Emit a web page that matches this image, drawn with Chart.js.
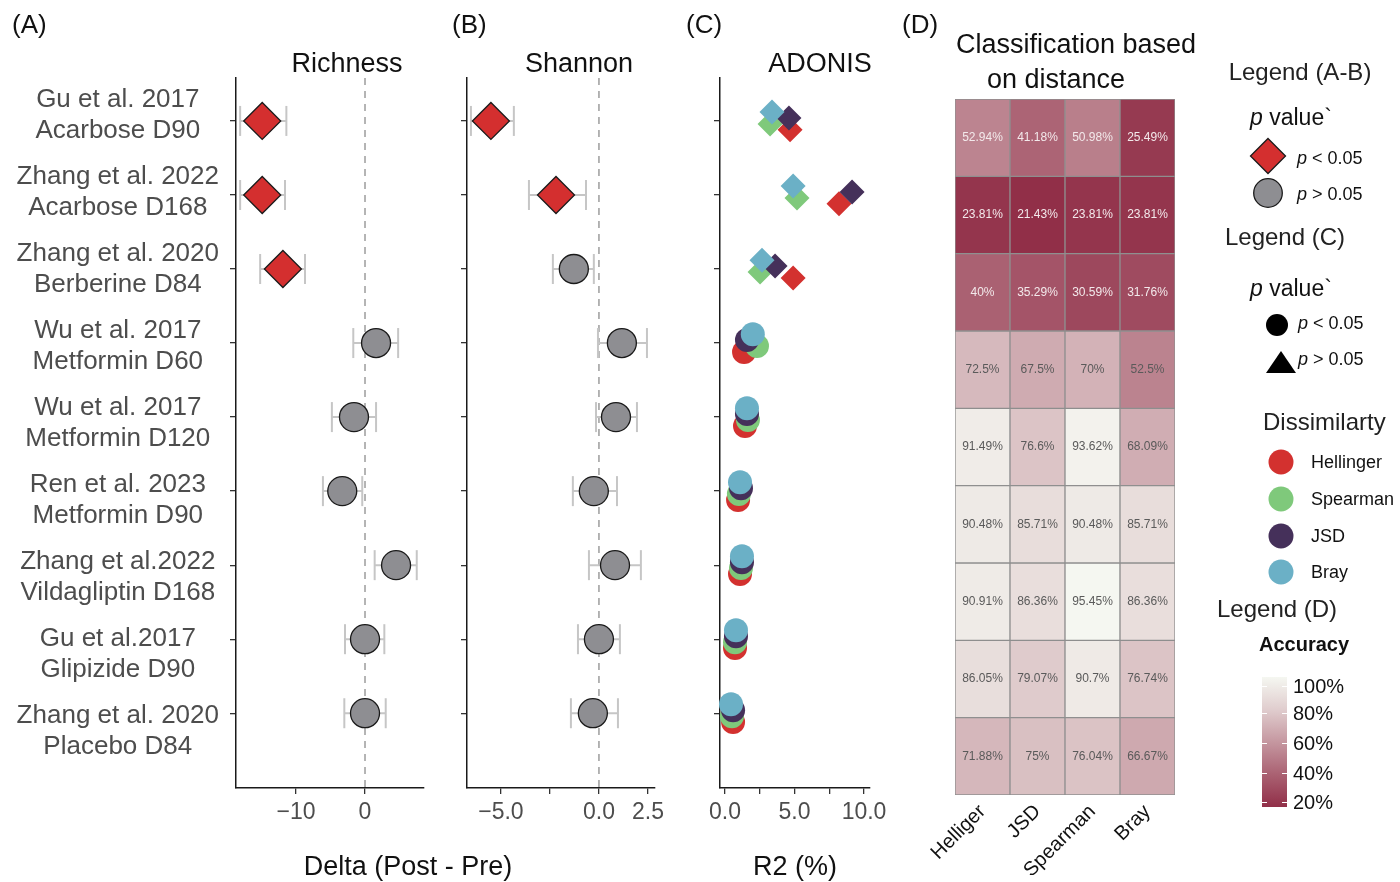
<!DOCTYPE html>
<html lang="en">
<head>
<meta charset="UTF-8" />
<title>Microbiome diversity and classification</title>
<script src="https://cdn.jsdelivr.net/npm/chart.js"></script>
<style>
  body { margin: 0; background: #fff; font-family: "Liberation Sans", Arial, sans-serif; }
  #wrap { position: relative; width: 1400px; height: 882px; overflow: hidden; }
  #wrap canvas { position: absolute; left: 0; top: 0; }
  .t { position: absolute; white-space: nowrap; line-height: 1; color: #111; }
  .c { transform: translate(-50%, -50%); }
  .l { transform: translateY(-50%); }
  .shape { position: absolute; overflow: visible; }
</style>
</head>
<body>
<div id="wrap">
  <canvas id="richness" width="1400" height="882"></canvas>
  <canvas id="shannon" width="1400" height="882"></canvas>
  <canvas id="adonis" width="1400" height="882"></canvas>
  <canvas id="heat" width="1400" height="882"></canvas>

  <!-- panel letters and titles -->
  <div class="t l" style="left:12px;top:24px;font-size:26px">(A)</div>
  <div class="t l" style="left:452px;top:24px;font-size:26px">(B)</div>
  <div class="t l" style="left:686px;top:24px;font-size:26px">(C)</div>
  <div class="t l" style="left:902px;top:24px;font-size:26px">(D)</div>
  <div class="t c" style="left:347px;top:63px;font-size:27px">Richness</div>
  <div class="t c" style="left:579px;top:63px;font-size:27px">Shannon</div>
  <div class="t c" style="left:820px;top:63px;font-size:27px">ADONIS</div>
  <div class="t c" style="left:1076px;top:44px;font-size:27px">Classification based</div>
  <div class="t c" style="left:1056px;top:79px;font-size:27px">on distance</div>
  <div class="t c" style="left:408px;top:866px;font-size:27px">Delta (Post - Pre)</div>
  <div class="t c" style="left:795px;top:866px;font-size:27px">R2 (%)</div>

  <!-- legend A-B -->
  <div class="t c" style="left:1300px;top:72px;font-size:24px;color:#222">Legend (A-B)</div>
  <div class="t l" style="left:1250px;top:117px;font-size:23px"><i>p</i> value`</div>
  <svg class="shape" style="left:1248px;top:136px" width="40" height="40">
    <polygon points="20,2.5 37.5,20 20,37.5 2.5,20" fill="#d42f2f" stroke="#1a1a1a" stroke-width="1.3"/>
  </svg>
  <div class="t l" style="left:1297px;top:158px;font-size:18px"><i>p</i> &lt; 0.05</div>
  <svg class="shape" style="left:1248px;top:173px" width="40" height="40">
    <circle cx="20" cy="20" r="14.3" fill="#8e8e92" stroke="#1a1a1a" stroke-width="1.3"/>
  </svg>
  <div class="t l" style="left:1297px;top:194px;font-size:18px"><i>p</i> &gt; 0.05</div>

  <!-- legend C -->
  <div class="t c" style="left:1285px;top:237px;font-size:24px;color:#222">Legend (C)</div>
  <div class="t l" style="left:1250px;top:288px;font-size:23px"><i>p</i> value`</div>
  <svg class="shape" style="left:1257px;top:305px" width="40" height="40">
    <circle cx="20" cy="20" r="11" fill="#000"/>
  </svg>
  <div class="t l" style="left:1298px;top:323px;font-size:18px"><i>p</i> &lt; 0.05</div>
  <svg class="shape" style="left:1261px;top:342px" width="40" height="40">
    <polygon points="20,9 35,31 5,31" fill="#000"/>
  </svg>
  <div class="t l" style="left:1298px;top:359px;font-size:18px"><i>p</i> &gt; 0.05</div>

  <!-- legend dissimilarity -->
  <div class="t l" style="left:1263px;top:422px;font-size:24px;color:#222">Dissimilarty</div>
  <div id="dissimLegend"></div>

  <!-- legend D -->
  <div class="t l" style="left:1217px;top:609px;font-size:24px;color:#222">Legend (D)</div>
  <div class="t l" style="left:1259px;top:644px;font-size:20px;font-weight:bold">Accuracy</div>
  <div id="colorbar" style="position:absolute;left:1262px;top:677px;width:25px;height:130px"></div>
  <div id="colorbarLabels"></div>
</div>

<script>
  // ---- data ----
  const studies = [
    ['Gu et al. 2017', 'Acarbose D90'],
    ['Zhang et al. 2022', 'Acarbose D168'],
    ['Zhang et al. 2020', 'Berberine D84'],
    ['Wu et al. 2017', 'Metformin D60'],
    ['Wu et al. 2017', 'Metformin D120'],
    ['Ren et al. 2023', 'Metformin D90'],
    ['Zhang et al.2022', 'Vildagliptin D168'],
    ['Gu et al.2017', 'Glipizide D90'],
    ['Zhang et al. 2020', 'Placebo D84']
  ];

  // (A) richness, delta post - pre
  const richMean = [-14.9, -14.9, -11.9, 1.6, -1.6, -3.3, 4.5, 0.0, 0.0];
  const richLow  = [-18.1, -18.1, -15.2, -1.7, -4.8, -6.1, 1.4, -2.9, -3.0];
  const richHigh = [-11.4, -11.6, -8.7, 4.8, 1.6, -0.4, 7.5, 2.8, 3.0];
  const richSig  = [true, true, true, false, false, false, false, false, false];

  // (B) shannon, delta post - pre
  const shanMean = [-5.51, -2.19, -1.28, 1.17, 0.87, -0.26, 0.82, 0.0, -0.31];
  const shanLow  = [-6.53, -3.57, -2.35, -0.05, -0.15, -1.33, -0.51, -1.07, -1.43];
  const shanHigh = [-4.34, -0.66, -0.26, 2.45, 1.94, 0.92, 2.14, 1.07, 0.97];
  const shanSig  = [true, true, false, false, false, false, false, false, false];

  // (C) ADONIS R2 (%)
  const dissimNames = ['Hellinger', 'Spearman', 'JSD', 'Bray'];
  const r2Hellinger = [4.68, 8.2, 4.9, 1.37, 1.44, 0.94, 1.08, 0.72, 0.58];
  const r2Spearman  = [3.24, 5.18, 2.52, 2.3, 1.65, 1.0, 1.15, 0.72, 0.5];
  const r2JSD       = [4.6, 9.14, 3.6, 1.58, 1.58, 1.15, 1.22, 0.79, 0.58];
  const r2Bray      = [3.38, 4.9, 2.66, 2.0, 1.58, 1.08, 1.22, 0.79, 0.43];
  const adonisDiamond = [true, true, true, false, false, false, false, false, false];

  // (D) classification accuracy (%), rows = studies
  const heatCols = ['Helliger', 'JSD', 'Spearman', 'Bray'];
  const accuracy = [
    [52.94, 41.18, 50.98, 25.49],
    [23.81, 21.43, 23.81, 23.81],
    [40, 35.29, 30.59, 31.76],
    [72.5, 67.5, 70, 52.5],
    [91.49, 76.6, 93.62, 68.09],
    [90.48, 85.71, 90.48, 85.71],
    [90.91, 86.36, 95.45, 86.36],
    [86.05, 79.07, 90.7, 76.74],
    [71.88, 75, 76.04, 66.67]
  ];

  const richTicks = [-10, 0];
  const richTickLabels = ['\u221210', '0'];
  const shanTicks = [-5, -2.5, 0, 2.5];
  const shanTickLabels = ['\u22125.0', '', '0.0', '2.5'];
  const r2Ticks = [0, 2.5, 5, 7.5, 10];
  const r2TickLabels = ['0.0', '', '5.0', '', '10.0'];
  const colorbarTicks = [100, 80, 60, 40, 20];

  // ---- styling / layout ----
  Chart.defaults.font.family = '"Liberation Sans", Arial, sans-serif';
  Chart.defaults.color = '#4d4d4d';

  const dissimColors = ['#d3312f', '#7fc97b', '#45305a', '#6bb0c6'];
  const rows = studies.map((s, i) => i + 1);
  const Y_MIN = 0.42, Y_MAX = 10.01;      // tick rows
  const LAB_MIN = 0.519, LAB_MAX = 9.740; // study labels sit slightly off the ticks
  const TOP = 78, BOTTOM = 788;

  function yTickAxis(width) {
    return {
      type: 'linear', position: 'left', weight: 0, reverse: true, bounds: 'data',
      min: Y_MIN, max: Y_MAX,
      afterBuildTicks: s => { s.ticks = rows.map(v => ({ value: v })); },
      ticks: { callback: () => '', padding: 0 },
      grid: { drawOnChartArea: false, drawTicks: true, tickLength: 6, color: '#333', lineWidth: 1.3 },
      border: { display: true, color: '#1a1a1a', width: 1.5 },
      afterFit: s => { s.width = width; }
    };
  }

  function xAxis(min, max, ticks, labels) {
    return {
      type: 'linear', bounds: 'data', min, max,
      afterBuildTicks: s => { s.ticks = ticks.map(v => ({ value: v })); },
      ticks: {
        callback: (v, i) => labels[i], font: { size: 23 }, color: '#4d4d4d',
        padding: 5, autoSkip: false, maxRotation: 0
      },
      grid: { drawOnChartArea: false, drawTicks: true, tickLength: 6, color: '#333', lineWidth: 1.3 },
      border: { display: true, color: '#1a1a1a', width: 1.5 },
      afterFit: s => { s.height = 50; }
    };
  }

  function forest(id, mean, low, high, sig, xMin, xMax, ticks, labels, left, right, withLabels) {
    const datasets = [{
      data: mean.map((m, i) => ({ x: m, y: i + 1 })),
      pointStyle: c => sig[c.dataIndex] ? 'rectRot' : 'circle',
      pointRadius: c => sig[c.dataIndex] ? 18.5 : 14.5,
      pointBackgroundColor: c => sig[c.dataIndex] ? '#d42f2f' : '#8e8e92',
      pointBorderColor: '#1a1a1a', pointBorderWidth: 1.3, order: 0
    }];
    low.forEach((lo, i) => {
      datasets.push({
        showLine: true, data: [{ x: lo, y: i + 1 }, { x: high[i], y: i + 1 }],
        borderColor: '#c6c6c6', borderWidth: 2,
        pointStyle: 'line', pointRotation: 90, pointRadius: 15,
        pointBorderColor: '#c6c6c6', pointBorderWidth: 2, order: 2
      });
    });
    datasets.push({
      showLine: true, data: [{ x: 0, y: Y_MIN }, { x: 0, y: Y_MAX }],
      borderColor: '#adadad', borderWidth: 1.8, borderDash: [7, 6], pointRadius: 0, order: 3
    });

    const scales = { x: xAxis(xMin, xMax, ticks, labels) };
    if (withLabels) {
      scales.y = yTickAxis(0);
      scales.yl = {
        type: 'linear', position: 'left', weight: 10, reverse: true, bounds: 'data',
        min: LAB_MIN, max: LAB_MAX,
        afterBuildTicks: s => { s.ticks = rows.map(v => ({ value: v })); },
        ticks: {
          callback: v => studies[v - 1], font: { size: 26, lineHeight: 1.19 },
          color: '#4d4d4d', crossAlign: 'center', padding: 9, autoSkip: false
        },
        grid: { display: false }, border: { display: false },
        afterFit: s => { s.width = left; }
      };
    } else {
      scales.y = yTickAxis(10);
    }

    new Chart(document.getElementById(id), {
      type: 'scatter',
      data: { datasets },
      options: {
        responsive: false, animation: false, clip: false,
        layout: { padding: { left: withLabels ? 0 : left - 10, right: 1400 - right, top: TOP, bottom: 882 - BOTTOM - 50 } },
        plugins: { legend: { display: false }, tooltip: { enabled: false } },
        events: [],
        scales
      }
    });
  }

  forest('richness', richMean, richLow, richHigh, richSig, -18.7, 8.55, richTicks, richTickLabels, 236, 424, true);
  forest('shannon', shanMean, shanLow, shanHigh, shanSig, -6.73, 2.86, shanTicks, shanTickLabels, 467, 655, false);

  // (C) ADONIS: four dissimilarities dodged vertically within each row
  const r2Series = [r2Hellinger, r2Spearman, r2JSD, r2Bray];
  const dodge = [0.12, 0.04, -0.04, -0.12];
  new Chart(document.getElementById('adonis'), {
    type: 'scatter',
    data: {
      datasets: r2Series.map((vals, k) => ({
        label: dissimNames[k],
        data: vals.map((v, i) => ({ x: v, y: i + 1 + dodge[k] })),
        pointStyle: c => adonisDiamond[c.dataIndex] ? 'rectRot' : 'circle',
        pointRadius: c => adonisDiamond[c.dataIndex] ? 12.5 : 12,
        pointBackgroundColor: dissimColors[k], pointBorderWidth: 0,
        order: 3 - k
      }))
    },
    options: {
      responsive: false, animation: false, clip: false,
      layout: { padding: { left: 710, right: 1400 - 870, top: TOP, bottom: 882 - BOTTOM - 50 } },
      plugins: { legend: { display: false }, tooltip: { enabled: false } },
      events: [],
      scales: { x: xAxis(-0.36, 10.43, r2Ticks, r2TickLabels), y: yTickAxis(10) }
    }
  });

  // (D) heatmap as floating bars, one dataset per study row
  // fill scale runs over the data range
  const allAcc = accuracy.flat();
  const HEAT_LO = Math.min(...allAcc), HEAT_HI = Math.max(...allAcc);
  const lowRgb = [145, 47, 72], highRgb = [245, 247, 241];
  function heatColor(v) {
    const t = Math.min(1, Math.max(0, (v - HEAT_LO) / (HEAT_HI - HEAT_LO)));
    const c = lowRgb.map((a, i) => Math.round(a + (highRgb[i] - a) * t));
    return `rgb(${c[0]},${c[1]},${c[2]})`;
  }

  const cellText = {
    id: 'cellText',
    afterDatasetsDraw(chart) {
      const ctx = chart.ctx;
      ctx.save();
      ctx.font = '12px "Liberation Sans", Arial, sans-serif';
      ctx.textAlign = 'center';
      ctx.textBaseline = 'middle';
      chart.data.datasets.forEach((ds, r) => {
        chart.getDatasetMeta(r).data.forEach((bar, c) => {
          ctx.fillStyle = r < 3 ? '#f3e9eb' : '#5a5a5a';
          ctx.fillText(accuracy[r][c] + '%', bar.x, (bar.y + bar.base) / 2);
        });
      });
      ctx.restore();
    }
  };

  new Chart(document.getElementById('heat'), {
    type: 'bar',
    data: {
      labels: heatCols,
      datasets: accuracy.map((row, r) => ({
        data: row.map(() => [r, r + 1]),
        backgroundColor: row.map(heatColor),
        borderColor: '#8f8f8f', borderWidth: 1, borderSkipped: false,
        grouped: false, barPercentage: 1, categoryPercentage: 1
      }))
    },
    options: {
      responsive: false, animation: false,
      layout: { padding: { left: 955, right: 1400 - 1175, top: 99, bottom: 882 - 795 - 80 } },
      plugins: { legend: { display: false }, tooltip: { enabled: false } },
      events: [],
      scales: {
        x: {
          ticks: {
            font: { size: 20 }, color: '#111', minRotation: 45, maxRotation: 45,
            padding: -3, autoSkip: false
          },
          grid: { display: false }, border: { display: false },
          afterFit: s => { s.height = 80; }
        },
        y: { type: 'linear', display: false, reverse: true, min: 0, max: accuracy.length }
      }
    },
    plugins: [cellText]
  });

  // ---- legends ----
  const legendY = [462, 499, 536, 572];
  document.getElementById('dissimLegend').innerHTML = dissimNames.map((n, k) =>
    `<svg class="shape" style="left:1266px;top:${legendY[k] - 15}px" width="30" height="30">
       <circle cx="15" cy="15" r="12.5" fill="${dissimColors[k]}"/></svg>
     <div class="t l" style="left:1311px;top:${legendY[k]}px;font-size:18px">${n}</div>`
  ).join('');

  const bar = document.getElementById('colorbar');
  bar.style.background = `linear-gradient(to bottom, ${[100, 80, 60, 40, 20].map(heatColor).join(', ')})`;
  const cbY = [686, 713, 743, 773, 802];
  document.getElementById('colorbarLabels').innerHTML = colorbarTicks.map((v, i) =>
    `<div style="position:absolute;left:1262px;top:${cbY[i]}px;width:5px;height:1px;background:#fff"></div>
     <div style="position:absolute;left:1282px;top:${cbY[i]}px;width:5px;height:1px;background:#fff"></div>
     <div class="t l" style="left:1293px;top:${cbY[i]}px;font-size:20px">${v}%</div>`
  ).join('');
</script>
</body>
</html>
